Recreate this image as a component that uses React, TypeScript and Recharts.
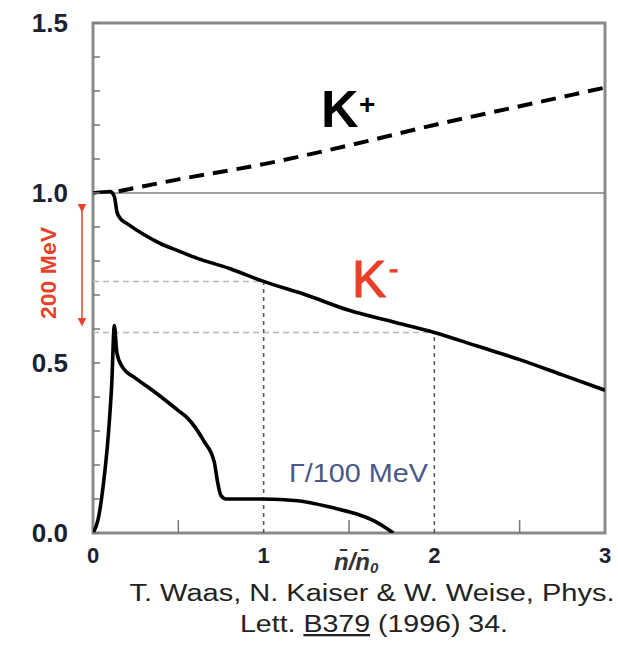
import { LineChart, Line, XAxis, YAxis, ReferenceLine, ReferenceArea } from "recharts"

// kaon effective mass ratios vs density, K- width
const kPlusX = [0.15, 0.5, 1.0, 1.5, 2.0, 2.5, 3.0]
const kPlusY = [1.005, 1.04, 1.085, 1.14, 1.2, 1.255, 1.31]

const kMinusX = [0, 0.06, 0.1, 0.125, 0.14, 0.16, 0.2, 0.3, 0.4, 0.5, 0.6, 0.8, 1.0, 1.25, 1.5, 1.75, 2.0, 2.25, 2.5, 2.75, 3.0]
const kMinusY = [1.0, 1.003, 1.004, 0.99, 0.945, 0.925, 0.91, 0.877, 0.85, 0.83, 0.81, 0.778, 0.74, 0.7, 0.655, 0.622, 0.59, 0.55, 0.51, 0.465, 0.42]

const gammaX = [0, 0.03, 0.06, 0.09, 0.11, 0.125, 0.14, 0.17, 0.25, 0.32, 0.4, 0.5, 0.55, 0.65, 0.71, 0.73, 0.75, 0.78, 1.0, 1.2, 1.4, 1.55, 1.65, 1.76]
const gammaY = [0, 0.04, 0.14, 0.29, 0.44, 0.61, 0.53, 0.49, 0.455, 0.43, 0.4, 0.36, 0.34, 0.27, 0.21, 0.15, 0.11, 0.1, 0.1, 0.095, 0.075, 0.055, 0.035, 0]

const xTicks = [0, 0.5, 1, 1.5, 2, 2.5, 3]
const xLabels = ["0", "1", "2", "3"]
const yTicks = [0, 0.1, 0.2, 0.3, 0.4, 0.5, 0.6, 0.7, 0.8, 0.9, 1.0, 1.1, 1.2, 1.3, 1.4, 1.5]
const yLabels = ["0.0", "0.5", "1.0", "1.5"]

// guide lines where K- crosses density 1 and 2
const guides = [
  { x: 1, y: 0.74 },
  { x: 2, y: 0.59 },
]

const zip = (xs: number[], ys: number[]) => xs.map((x, i) => ({ x, y: ys[i] }))
const kPlus = zip(kPlusX, kPlusY)
const kMinus = zip(kMinusX, kMinusY)
const gamma = zip(gammaX, gammaY)

const sans = "Liberation Sans, Arial, sans-serif"

const YTick = ({ x, y, payload }: any) => {
  const v = payload.value
  const idx = Math.round(v * 2)
  const major = Math.abs(v * 2 - idx) < 1e-6
  return (
    <g>
      <line x1={x} x2={x + 7} y1={y} y2={y} stroke="#777" strokeWidth={1.5} />
      {major && (
        <text x={68} y={y} dy={9} textAnchor="end" fontSize={26} fontWeight={700} fill="#1c2130" fontFamily={sans}>
          {yLabels[idx]}
        </text>
      )}
    </g>
  )
}

const XTick = ({ x, y, payload }: any) => {
  const v = payload.value
  const major = Number.isInteger(v)
  return (
    <g>
      {!major && <line x1={x} x2={x} y1={y} y2={y - 13} stroke="#777" strokeWidth={1.5} />}
      {major && (
        <text x={x} y={y} dy={30} textAnchor="middle" fontSize={22} fontWeight={700} fill="#1c2130" fontFamily={sans}>
          {xLabels[v]}
        </text>
      )}
    </g>
  )
}

export default function App() {
  return (
    <div style={{ position: "absolute", left: 0, top: 0, width: 618, height: 652, background: "#fff" }}>
      <LineChart width={618} height={652} margin={{ top: 23, right: 13, left: 0, bottom: 0 }}>
        <XAxis
          type="number"
          dataKey="x"
          domain={[0, 3]}
          ticks={xTicks}
          height={119}
          axisLine={false}
          tickLine={false}
          tickSize={0}
          tickMargin={0}
          tick={<XTick />}
          allowDataOverflow
        />
        <YAxis
          type="number"
          dataKey="y"
          domain={[0, 1.5]}
          ticks={yTicks}
          width={93}
          axisLine={false}
          tickLine={false}
          tickSize={0}
          tickMargin={0}
          tick={<YTick />}
          interval={0}
          allowDataOverflow
        />
        <ReferenceLine y={1} stroke="#808080" strokeWidth={1.5} />
        {guides.map((g, i) => (
          <ReferenceLine
            key={`h-${i}`}
            segment={[{ x: 0, y: g.y }, { x: g.x, y: g.y }]}
            stroke="#b8b8b8"
            strokeWidth={1.5}
            strokeDasharray="6 4"
          />
        ))}
        {guides.map((g, i) => (
          <ReferenceLine
            key={`v-${i}`}
            segment={[{ x: g.x, y: 0 }, { x: g.x, y: g.y }]}
            stroke="#555"
            strokeWidth={1.5}
            strokeDasharray="4 4"
          />
        ))}
        <ReferenceArea x1={0} x2={3} y1={0} y2={1.5} fill="none" stroke="#8a8a8a" strokeWidth={3} />
        <Line data={kPlus} dataKey="y" type="monotone" stroke="#000" strokeWidth={4} strokeDasharray="15 9" dot={false} isAnimationActive={false} />
        <Line data={kMinus} dataKey="y" type="monotone" stroke="#000" strokeWidth={3.6} dot={false} isAnimationActive={false} />
        <Line data={gamma} dataKey="y" type="monotone" stroke="#000" strokeWidth={3.6} dot={false} isAnimationActive={false} />
      </LineChart>
      <svg width={618} height={652} style={{ position: "absolute", left: 0, top: 0, pointerEvents: "none" }}>
        <defs>
          <marker id="arr" markerWidth={6} markerHeight={6} refX={3} refY={3} orient="auto">
            <path d="M0,0 L6,3 L0,6 Z" fill="#e8402a" />
          </marker>
        </defs>
        <line x1={82} y1={208} x2={82} y2={322} stroke="#e8402a" strokeWidth={1.5} markerStart="url(#arr)" markerEnd="url(#arr)" />
        <text transform="translate(56,273) rotate(-90)" textAnchor="middle" fontSize={22} fontWeight={700} fill="#e8402a" fontFamily={sans} textLength={92} lengthAdjust="spacingAndGlyphs">
          200 MeV
        </text>
        <text x={321} y={127} fontSize={52} fontWeight={700} fill="#000" fontFamily={sans}>K</text>
        <text x={359} y={114} fontSize={28} fontWeight={700} fill="#000" fontFamily={sans}>+</text>
        <text x={352} y={297} fontSize={51} fill="#e8402a" stroke="#e8402a" strokeWidth={1.2} fontFamily={sans}>K</text>
        <text x={389} y={278} fontSize={28} fill="#e8402a" stroke="#e8402a" strokeWidth={1} fontFamily={sans}>-</text>
        <text x={289} y={482} fontSize={26} fill="#4a5888" fontFamily={sans} textLength={139} lengthAdjust="spacingAndGlyphs">
          Γ/100 MeV
        </text>
        <text x={334} y={570} fontSize={24} fontStyle="italic" fontWeight={700} fill="#333" fontFamily={sans}>
          n̄/n̄<tspan fontSize={15} dy={3}>0</tspan>
        </text>
        <text x={372} y={601} textAnchor="middle" fontSize={23} fill="#222" fontFamily={sans} textLength={485} lengthAdjust="spacingAndGlyphs">
          T. Waas, N. Kaiser &amp; W. Weise, Phys.
        </text>
        <text x={240} y={632} fontSize={23} fill="#222" fontFamily={sans} textLength={268} lengthAdjust="spacingAndGlyphs">
          Lett. <tspan textDecoration="underline">B379</tspan> (1996) 34.
        </text>
      </svg>
    </div>
  )
}
